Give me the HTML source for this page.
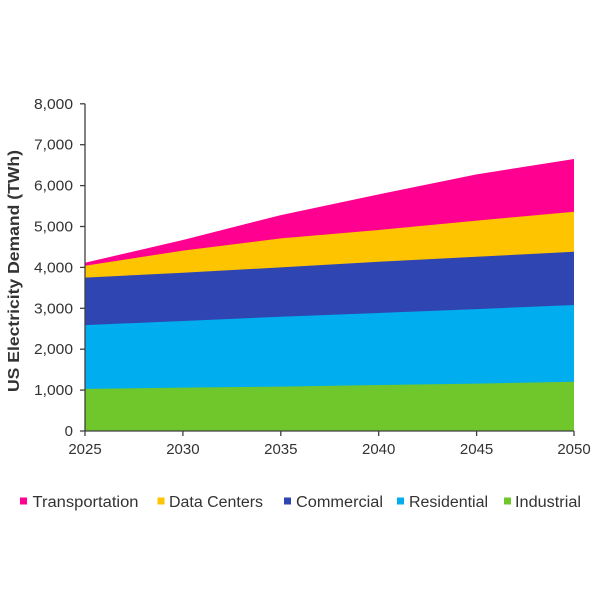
<!DOCTYPE html>
<html>
<head>
<meta charset="utf-8">
<style>
html,body{margin:0;padding:0;background:#fff;}
svg{display:block;}
text{font-family:"Liberation Sans",Arial,sans-serif;fill:#333;}
</style>
</head>
<body>
<svg width="600" height="600" viewBox="0 0 600 600" xmlns="http://www.w3.org/2000/svg">
<rect width="600" height="600" fill="#fff"/>
<!-- Areas -->
<polygon fill="#FF0090" points="85,262.7 182.9,240.0 280.8,215.1 378.7,194.4 476.6,174.4 574,159.0 574,431 85,431"/>
<polygon fill="#FFC400" points="85,265.8 182.9,250.6 280.8,238.4 378.7,230.0 476.6,220.6 574,211.8 574,431 85,431"/>
<polygon fill="#2F45B2" points="85,277.6 182.9,272.7 280.8,267.4 378.7,261.7 476.6,256.8 574,251.7 574,431 85,431"/>
<polygon fill="#00ADEE" points="85,325.1 182.9,321.0 280.8,316.7 378.7,313.0 476.6,309.1 574,305.0 574,431 85,431"/>
<polygon fill="#6FC72B" points="85,388.9 182.9,387.6 280.8,386.6 378.7,385.0 476.6,383.6 574,381.7 574,431 85,431"/>
<!-- Axes -->
<g stroke="#404040" stroke-width="1.3" fill="none">
<line x1="85" y1="103.8" x2="85" y2="431"/>
<line x1="85" y1="431" x2="574" y2="431"/>
<line x1="80" y1="431" x2="85" y2="431"/>
<line x1="80" y1="390.1" x2="85" y2="390.1"/>
<line x1="80" y1="349.2" x2="85" y2="349.2"/>
<line x1="80" y1="308.3" x2="85" y2="308.3"/>
<line x1="80" y1="267.4" x2="85" y2="267.4"/>
<line x1="80" y1="226.5" x2="85" y2="226.5"/>
<line x1="80" y1="185.6" x2="85" y2="185.6"/>
<line x1="80" y1="144.7" x2="85" y2="144.7"/>
<line x1="80" y1="103.8" x2="85" y2="103.8"/>
<line x1="85" y1="431" x2="85" y2="436"/>
<line x1="182.9" y1="431" x2="182.9" y2="436"/>
<line x1="280.8" y1="431" x2="280.8" y2="436"/>
<line x1="378.7" y1="431" x2="378.7" y2="436"/>
<line x1="476.6" y1="431" x2="476.6" y2="436"/>
<line x1="574" y1="431" x2="574" y2="436"/>
</g>
<!-- Y labels -->
<g font-size="15" text-anchor="end">
<text x="73" y="436">0</text>
<text x="73" y="395.1" textLength="39" lengthAdjust="spacingAndGlyphs">1,000</text>
<text x="73" y="354.2" textLength="39" lengthAdjust="spacingAndGlyphs">2,000</text>
<text x="73" y="313.3" textLength="39" lengthAdjust="spacingAndGlyphs">3,000</text>
<text x="73" y="272.4" textLength="39" lengthAdjust="spacingAndGlyphs">4,000</text>
<text x="73" y="231.5" textLength="39" lengthAdjust="spacingAndGlyphs">5,000</text>
<text x="73" y="190.6" textLength="39" lengthAdjust="spacingAndGlyphs">6,000</text>
<text x="73" y="149.7" textLength="39" lengthAdjust="spacingAndGlyphs">7,000</text>
<text x="73" y="108.8" textLength="39" lengthAdjust="spacingAndGlyphs">8,000</text>
</g>
<!-- X labels -->
<g font-size="15" text-anchor="middle">
<text x="85" y="454">2025</text>
<text x="182.9" y="454">2030</text>
<text x="280.8" y="454">2035</text>
<text x="378.7" y="454">2040</text>
<text x="476.6" y="454">2045</text>
<text x="574" y="454">2050</text>
</g>
<!-- Y title -->
<text transform="translate(19,271) rotate(-90)" text-anchor="middle" font-size="16" font-weight="bold" fill="#222" textLength="242" lengthAdjust="spacingAndGlyphs">US Electricity Demand (TWh)</text>
<!-- Legend -->
<rect x="20" y="497.5" width="7" height="7" fill="#FF0090"/>
<text x="32.5" y="507" font-size="15.5" textLength="106" lengthAdjust="spacingAndGlyphs">Transportation</text>
<rect x="157.5" y="497.5" width="7" height="7" fill="#FFC400"/>
<text x="169" y="507" font-size="15.5" textLength="94" lengthAdjust="spacingAndGlyphs">Data Centers</text>
<rect x="284" y="497.5" width="7" height="7" fill="#2F45B2"/>
<text x="296" y="507" font-size="15.5" textLength="87" lengthAdjust="spacingAndGlyphs">Commercial</text>
<rect x="397" y="497.5" width="7" height="7" fill="#00ADEE"/>
<text x="409" y="507" font-size="15.5" textLength="79" lengthAdjust="spacingAndGlyphs">Residential</text>
<rect x="504" y="497.5" width="7" height="7" fill="#6FC72B"/>
<text x="515" y="507" font-size="15.5" textLength="66" lengthAdjust="spacingAndGlyphs">Industrial</text>
</svg>
</body>
</html>
